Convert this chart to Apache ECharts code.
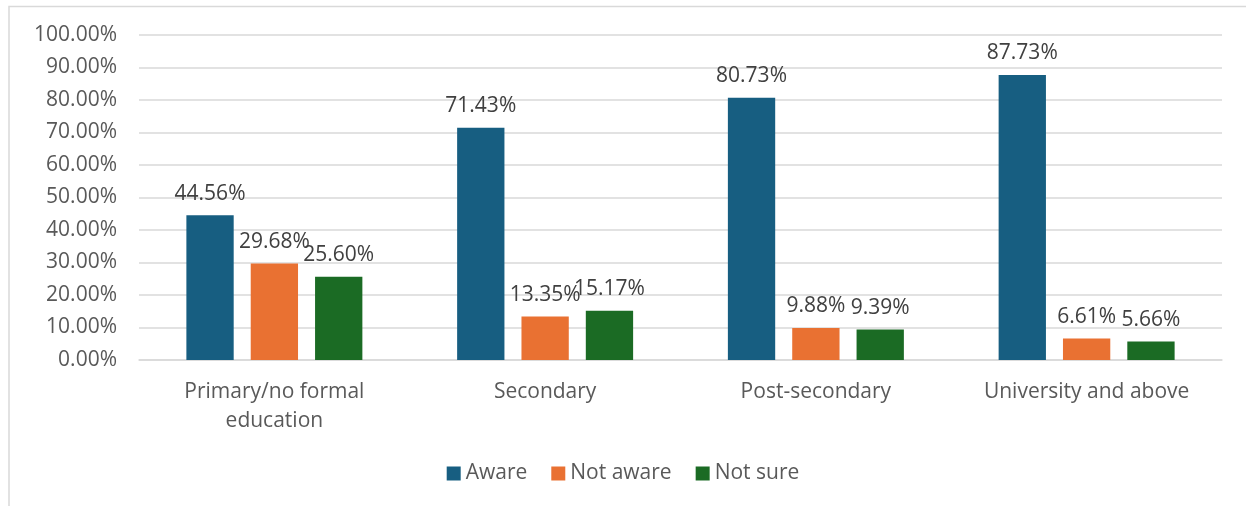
<!DOCTYPE html>
<html>
<head>
<meta charset="utf-8">
<script src="https://cdn.jsdelivr.net/npm/echarts@6/dist/echarts.min.js"></script>
<style>
    html, body { margin: 0; padding: 0; background: #fff; }
    #chart { width: 1246px; height: 506px; }
</style>
</head>
<body>
<div id="chart"></div>
<script>
const categories = ['Primary/no formal\neducation', 'Secondary', 'Post-secondary', 'University and above'];
const aware = [44.56, 71.43, 80.73, 87.73];
const notAware = [29.68, 13.35, 9.88, 6.61];
const notSure = [25.60, 15.17, 9.39, 5.66];
const seriesNames = ['Aware', 'Not aware', 'Not sure'];
const colors = ['#175e81', '#e97132', '#1b6b24'];

const fontFamily = '"Open Sans", "Liberation Sans", sans-serif';

const chart = echarts.init(document.getElementById('chart'));

function barSeries(name, data) {
    return {
        name: name,
        type: 'bar',
        data: data,
        barGap: '36%',
        barCategoryGap: '35%',
        label: {
            show: true,
            position: 'top',
            distance: 11,
            color: '#404040',
            fontSize: 21,
            fontFamily: fontFamily,
            formatter: p => p.value.toFixed(2) + '%'
        }
    };
}

chart.setOption({
    animation: false,
    color: colors,
    graphic: [{
        type: 'polyline',
        shape: { points: [[1246, 6.5], [9, 6.5], [9, 506]] },
        style: { stroke: '#d9d9d9', lineWidth: 1.5, fill: null },
        silent: true
    }],
    grid: { left: 139, right: 24, top: 35, bottom: 146 },
    legend: {
        bottom: 17,
        left: 'center',
        itemWidth: 14,
        itemHeight: 14,
        itemGap: 24,
        icon: 'rect',
        textStyle: { color: '#595959', fontSize: 21, fontFamily: fontFamily },
        data: seriesNames
    },
    xAxis: {
        type: 'category',
        data: categories,
        axisLine: { lineStyle: { color: '#d9d9d9', width: 1.5 } },
        axisTick: { show: false },
        axisLabel: {
            color: '#595959',
            fontSize: 21,
            fontFamily: fontFamily,
            margin: 18,
            lineHeight: 29,
            interval: 0
        }
    },
    yAxis: {
        type: 'value',
        min: 0,
        max: 100,
        interval: 10,
        axisLine: { show: false },
        axisTick: { show: false },
        splitLine: { lineStyle: { color: '#d9d9d9', width: 1.5 } },
        axisLabel: {
            color: '#595959',
            fontSize: 21,
            fontFamily: fontFamily,
            margin: 22,
            formatter: v => v.toFixed(2) + '%'
        }
    },
    series: [
        barSeries(seriesNames[0], aware),
        barSeries(seriesNames[1], notAware),
        barSeries(seriesNames[2], notSure)
    ]
});
</script>
</body>
</html>
